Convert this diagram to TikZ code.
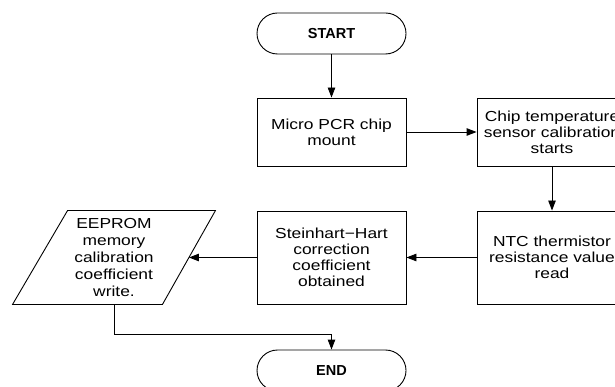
\documentclass[tikz,border=0pt]{standalone}
\usepackage{fontspec}
\setmainfont{Liberation Sans}[FakeStretch=1.2]
\newfontfamily\termfont{Liberation Sans}
\usetikzlibrary{arrows.meta}
\begin{document}
\begin{tikzpicture}[x=1pt,y=-1pt,
  line width=0.9pt,
  base/.style={font=\fontsize{14.5}{16}\selectfont, align=center, inner sep=0pt},
  procbox/.style={base, draw, minimum width=149pt, minimum height=#1},
  procbox/.default=68pt,
  term/.style={draw, rounded corners=20.5pt, minimum width=149pt, minimum height=41pt, inner sep=0pt,
    font=\termfont\bfseries\fontsize{14.5}{16}\selectfont},
  flow/.style={-{Triangle[length=10pt,width=7.5pt]}}]
\clip (0,0) rectangle (615,387);
\fill[white] (0,0) rectangle (615,387);

\node[term] (start) at (331.5,33.5) {START};
\node[procbox] (mount) at (331.5,132) {Micro PCR chip\\mount};
\node[procbox=68pt, minimum width=150pt] (calib) at (552,132) {Chip temperature\\sensor calibration\\starts};
\node[procbox=93pt, minimum width=150pt] (ntc) at (552,257.5) {NTC thermistor\\resistance value\\read};
\node[procbox=93pt] (sh) at (331.5,257.5) {Steinhart\textminus Hart\\correction\\coefficient\\obtained};
\node[base, minimum width=202pt, minimum height=93pt, font=\fontsize{14.5}{17.2}\selectfont] (eeprom) at (114,257.5)
  {EEPROM\\memory\\calibration\\coefficient\\write.};
\draw ([xshift=55pt]eeprom.north west) -- (eeprom.north east) -- ([xshift=-53pt]eeprom.south east) -- (eeprom.south west) -- cycle;
\coordinate (eepromR) at ([xshift=-26.5pt]eeprom.east);
\node[term] (end) at (331.5,370.5) {END};

\draw[flow] (start) -- (mount);
\draw[flow] (mount) -- (calib);
\draw[flow] (calib) -- (ntc);
\draw[flow] (ntc) -- (sh);
\draw[flow] (sh) -- (eepromR);
\coordinate (bend) at (114,334);
\draw[flow] (eeprom.south) -- (bend) -| (end.north);
\end{tikzpicture}
\end{document}
